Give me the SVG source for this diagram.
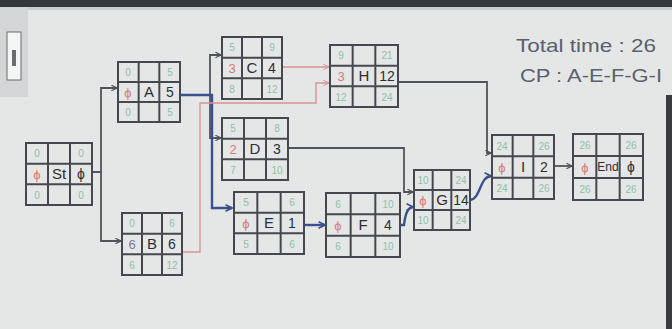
<svg xmlns="http://www.w3.org/2000/svg" xmlns:xlink="http://www.w3.org/1999/xlink" width="672" height="329" viewBox="0 0 672 329">
<style>
.box{fill:none;stroke:#454850;stroke-width:2}
.c{stroke:#50545c;stroke-width:1.8;fill:none}
.cb{stroke:#3c4f8e;stroke-width:2.4;fill:none}
.cp{stroke:#d99292;stroke-width:1.4;fill:none}
text{font-family:"Liberation Sans","DejaVu Sans",sans-serif;text-anchor:middle}
.n{fill:#8fc0a8;font-size:10px}
.s{fill:#d57a7a;font-size:13px}
.sd{fill:#7a7e86;font-size:13px}
.l{fill:#2c2f36;font-size:15px}
.d{fill:#2c2f36;font-size:14px}
.t{fill:#5a6070;font-size:19px;text-anchor:start}
</style>
<defs>
<g id="grid">
<rect x="0" y="0" width="60" height="60" class="box" vector-effect="non-scaling-stroke"/>
<path d="M20,0V60M40,0V60M0,20H60M0,40H60" class="box" vector-effect="non-scaling-stroke"/>
</g>
<marker id="ah" viewBox="0 0 10 10" refX="9" refY="5" markerWidth="7" markerHeight="7" orient="auto" markerUnits="userSpaceOnUse"><path d="M1,1L9,5L1,9" fill="none" stroke="#50545c" stroke-width="1.6"/></marker>
<marker id="ahb" viewBox="0 0 10 10" refX="9" refY="5" markerWidth="8" markerHeight="8" orient="auto" markerUnits="userSpaceOnUse"><path d="M1,1L9,5L1,9" fill="none" stroke="#3c4f8e" stroke-width="2"/></marker>
<marker id="ahp" viewBox="0 0 10 10" refX="9" refY="5" markerWidth="7" markerHeight="7" orient="auto" markerUnits="userSpaceOnUse"><path d="M1,1L9,5L1,9" fill="none" stroke="#d99292" stroke-width="1.4"/></marker>
</defs>
<rect x="0" y="0" width="672" height="329" fill="#e5e7e6"/>
<rect x="0" y="0" width="672" height="7" fill="#34373b"/>
<rect x="0" y="7" width="672" height="3" fill="#c9cbcc"/>
<rect x="0" y="7" width="28" height="90" fill="#d3d5d6"/>
<rect x="7" y="32" width="14" height="48" fill="#f4f5f5" stroke="#6a6d72" stroke-width="1"/>
<rect x="12" y="50" width="4" height="16" fill="#6a6d72"/>
<rect x="666" y="95" width="6" height="234" fill="#3a3c40"/>
<g id="connectors">
<path class="c" d="M92,172H101V88H117" marker-end="url(#ah)"/>
<path class="c" d="M101,172V241H121" marker-end="url(#ah)"/>
<path class="c" d="M180,95H210V55H221" marker-end="url(#ah)"/>
<path class="c" d="M210,95V138H221" marker-end="url(#ah)"/>
<path class="cb" d="M180,95H212V208H232" marker-end="url(#ahb)"/>
<path class="cp" d="M282,67H329" marker-end="url(#ahp)"/>
<path class="cp" d="M182,252H200V103H316V83H329" marker-end="url(#ahp)"/>
<path class="c" d="M288,148H404V192H413" marker-end="url(#ah)"/>
<path class="cb" d="M304,225H325" marker-end="url(#ahb)"/>
<path class="cb" d="M400,225H404Q406,207 413,207" marker-end="url(#ahb)"/>
<path class="c" d="M398,82H487V153H491" marker-end="url(#ah)"/>
<path class="cb" d="M470,200C480,200 480,176 491,176" marker-end="url(#ahb)"/>
<path class="c" d="M554,166H572" marker-end="url(#ah)"/>
</g>
<g id="node-St">
<use xlink:href="#grid" href="#grid" transform="translate(26,143) scale(1.1,1.0333)"/>
<text class="n" x="37" y="157">0</text><text class="n" x="81" y="157">0</text>
<text class="s" x="37" y="179">ϕ</text><text class="l" x="59" y="179">St</text><text class="d" x="81" y="179">ϕ</text>
<text class="n" x="37" y="199">0</text><text class="n" x="81" y="199">0</text>
</g>
<g id="node-A">
<use xlink:href="#grid" href="#grid" transform="translate(118,62) scale(1.0333,1)"/>
<text class="n" x="128" y="76">0</text><text class="n" x="170" y="76">5</text>
<text class="s" x="128" y="97">ϕ</text><text class="l" x="149" y="97">A</text><text class="d" x="170" y="97">5</text>
<text class="n" x="128" y="116">0</text><text class="n" x="170" y="116">5</text>
</g>
<g id="node-B">
<use xlink:href="#grid" href="#grid" transform="translate(122,213) scale(1,1.0333)"/>
<text class="n" x="132" y="227">0</text><text class="n" x="172" y="227">6</text>
<text class="sd" x="132" y="249">6</text><text class="l" x="152" y="249">B</text><text class="d" x="172" y="249">6</text>
<text class="n" x="132" y="269">6</text><text class="n" x="172" y="269">12</text>
</g>
<g id="node-C">
<use xlink:href="#grid" href="#grid" transform="translate(222,37) scale(1,1.0333)"/>
<text class="n" x="232" y="51">5</text><text class="n" x="272" y="51">9</text>
<text class="s" x="232" y="73">3</text><text class="l" x="252" y="73">C</text><text class="d" x="272" y="73">4</text>
<text class="n" x="232" y="93">8</text><text class="n" x="272" y="93">12</text>
</g>
<g id="node-D">
<use xlink:href="#grid" href="#grid" transform="translate(222,118) scale(1.1,1.0333)"/>
<text class="n" x="233" y="132">5</text><text class="n" x="277" y="132">8</text>
<text class="s" x="233" y="154">2</text><text class="l" x="255" y="154">D</text><text class="d" x="277" y="154">3</text>
<text class="n" x="233" y="174">7</text><text class="n" x="277" y="174">10</text>
</g>
<g id="node-E">
<use xlink:href="#grid" href="#grid" transform="translate(234,192) scale(1.1667,1.0333)"/>
<text class="n" x="246" y="206">5</text><text class="n" x="292" y="206">6</text>
<text class="s" x="246" y="228">ϕ</text><text class="l" x="269" y="228">E</text><text class="d" x="292" y="228">1</text>
<text class="n" x="246" y="248">5</text><text class="n" x="292" y="248">6</text>
</g>
<g id="node-H">
<use xlink:href="#grid" href="#grid" transform="translate(330,45) scale(1.1333,1.0333)"/>
<text class="n" x="341" y="59">9</text><text class="n" x="387" y="59">21</text>
<text class="s" x="341" y="81">3</text><text class="l" x="364" y="81">H</text><text class="d" x="387" y="81">12</text>
<text class="n" x="341" y="101">12</text><text class="n" x="387" y="101">24</text>
</g>
<g id="node-F">
<use xlink:href="#grid" href="#grid" transform="translate(326,193) scale(1.2333,1.0667)"/>
<text class="n" x="338" y="208">6</text><text class="n" x="388" y="208">10</text>
<text class="s" x="338" y="230">ϕ</text><text class="l" x="363" y="230">F</text><text class="d" x="388" y="230">4</text>
<text class="n" x="338" y="250">6</text><text class="n" x="388" y="250">10</text>
</g>
<g id="node-G">
<use xlink:href="#grid" href="#grid" transform="translate(414,170) scale(0.9333,1)"/>
<text class="n" x="423" y="184">10</text><text class="n" x="461" y="184">24</text>
<text class="s" x="423" y="205">ϕ</text><text class="l" x="442" y="205">G</text><text class="d" x="461" y="205">14</text>
<text class="n" x="423" y="224">10</text><text class="n" x="461" y="224">24</text>
</g>
<g id="node-I">
<use xlink:href="#grid" href="#grid" transform="translate(492,135) scale(1.0333,1.0667)"/>
<text class="n" x="502" y="150">24</text><text class="n" x="544" y="150">26</text>
<text class="s" x="502" y="172">ϕ</text><text class="l" x="523" y="172">I</text><text class="d" x="544" y="172">2</text>
<text class="n" x="502" y="192">24</text><text class="n" x="544" y="192">26</text>
</g>
<g id="node-End">
<use xlink:href="#grid" href="#grid" transform="translate(573,134) scale(1.1667,1.1)"/>
<text class="n" x="585" y="149">26</text><text class="n" x="631" y="149">26</text>
<text class="s" x="585" y="172">ϕ</text><text class="l" x="608" y="171" style="font-size:12px">End</text><text class="d" x="631" y="172">ϕ</text>
<text class="n" x="585" y="193">26</text><text class="n" x="631" y="193">26</text>
</g>
<g id="notes">
<text class="t" x="516" y="52" textLength="140" lengthAdjust="spacingAndGlyphs">Total time : 26</text>
<text class="t" x="520" y="82" textLength="142" lengthAdjust="spacingAndGlyphs">CP : A-E-F-G-I</text>
</g>
</svg>
